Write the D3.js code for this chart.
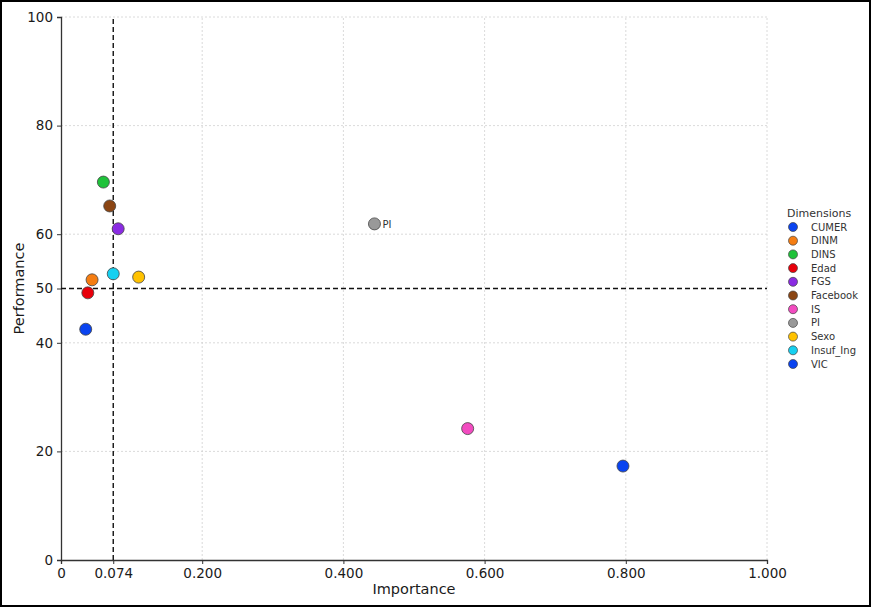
<!DOCTYPE html>
<html>
<head>
<meta charset="utf-8">
<script src="https://d3js.org/d3.v7.min.js"></script>
<style>
  body { margin: 0; background: #fff; }
  svg { font-family: "DejaVu Sans", sans-serif; }
  .grid line { stroke: #d0d0d0; stroke-dasharray: 2,2; stroke-width: 0.8; }
  .axis path, .axis line { stroke: #333; }
</style>
</head>
<body>
<script>
// dimensions and their (importance, performance) readings
var names = ["CUMER", "DINM", "DINS", "Edad", "FGS", "Facebook", "IS", "PI", "Sexo", "Insuf_Ing", "VIC"];
var importance = [0.035, 0.044, 0.060, 0.038, 0.081, 0.069, 0.576, 0.444, 0.110, 0.074, 0.796];
var performance = [42.5, 51.6, 69.6, 49.2, 61.0, 65.2, 24.2, 61.9, 52.1, 52.7, 17.3];
var colors = ["#0a44f0", "#f57d12", "#1fc23a", "#e8000b", "#8a2be2", "#8b4513", "#f24bc0", "#999999", "#ffc200", "#16d0f0", "#0a44f0"];

var xTicks = [0, 0.074, 0.2, 0.4, 0.6, 0.8, 1.0];
var yTicks = [0, 20, 40, 50, 60, 80, 100];
var xGrid = [0.2, 0.4, 0.6, 0.8, 1.0];
var yGrid = [20, 40, 60, 80, 100];
var importanceCut = 0.074;
var performanceCut = 50;

var W = 872, H = 609;
var m = { left: 61, right: 105, top: 17, bottom: 49 };

var svg = d3.select("body").append("svg")
  .attr("width", W)
  .attr("height", H);

svg.append("rect")
  .attr("x", 1).attr("y", 1)
  .attr("width", W - 3).attr("height", H - 4)
  .attr("fill", "#fff")
  .attr("stroke", "#000")
  .attr("stroke-width", 2);

var x = d3.scaleLinear().domain([0, 1]).range([m.left, W - m.right]);
var y = d3.scaleLinear().domain([0, 100]).range([H - m.bottom, m.top]);

var g = svg.append("g");

// grid
g.append("g").attr("class", "grid")
  .selectAll("line").data(xGrid).enter().append("line")
  .attr("x1", d => x(d)).attr("x2", d => x(d))
  .attr("y1", y(0)).attr("y2", y(100));
g.append("g").attr("class", "grid")
  .selectAll("line").data(yGrid).enter().append("line")
  .attr("x1", x(0)).attr("x2", x(1))
  .attr("y1", d => y(d)).attr("y2", d => y(d));

// axes
var xAxis = d3.axisBottom(x).tickValues(xTicks)
  .tickFormat(d => d === 0 ? "0" : d3.format(".3f")(d))
  .tickSizeOuter(0).tickSize(4).tickPadding(4);
g.append("g").attr("class", "axis")
  .attr("transform", "translate(0," + y(0) + ")")
  .call(xAxis)
  .call(a => a.attr("font-size", null).attr("font-family", null))
  .call(a => a.select(".domain").attr("stroke-width", 1.3))
  .call(a => a.selectAll("text").attr("font-size", 13.5).attr("fill", "#1a1a1a"));

var yAxis = d3.axisLeft(y).tickValues(yTicks)
  .tickFormat(d3.format("d"))
  .tickSizeOuter(0).tickSize(4).tickPadding(4);
g.append("g").attr("class", "axis")
  .attr("transform", "translate(" + x(0) + ",0)")
  .call(yAxis)
  .call(a => a.attr("font-size", null).attr("font-family", null))
  .call(a => a.select(".domain").attr("stroke-width", 1.3))
  .call(a => a.selectAll("text").attr("font-size", 13.5).attr("fill", "#1a1a1a"));

// threshold lines
g.append("line")
  .attr("x1", x(importanceCut)).attr("x2", x(importanceCut))
  .attr("y1", y(0)).attr("y2", y(100))
  .attr("stroke", "#111").attr("stroke-width", 1.4)
  .attr("stroke-dasharray", "5,3");
g.append("line")
  .attr("x1", x(0)).attr("x2", x(1))
  .attr("y1", y(performanceCut)).attr("y2", y(performanceCut))
  .attr("stroke", "#111").attr("stroke-width", 1.4)
  .attr("stroke-dasharray", "5,3");

// axis titles
svg.append("text")
  .attr("x", (x(0) + x(1)) / 2).attr("y", 594)
  .attr("text-anchor", "middle")
  .attr("font-size", 14.5).attr("fill", "#1a1a1a")
  .text("Importance");
svg.append("text")
  .attr("transform", "translate(24," + (y(0) + y(100)) / 2 + ") rotate(-90)")
  .attr("text-anchor", "middle")
  .attr("font-size", 14.5).attr("fill", "#1a1a1a")
  .text("Performance");

// points
var idx = d3.range(names.length);
g.selectAll("circle.pt").data(idx).enter().append("circle")
  .attr("class", "pt")
  .attr("cx", i => x(importance[i]))
  .attr("cy", i => y(performance[i]))
  .attr("r", 6)
  .attr("fill", i => colors[i])
  .attr("stroke", "#444")
  .attr("stroke-width", 0.8);

// label for PI
var pi = names.indexOf("PI");
g.append("text")
  .attr("x", x(importance[pi]) + 8)
  .attr("y", y(performance[pi]) + 4)
  .attr("font-size", 10).attr("fill", "#333")
  .text("PI");

// legend
var lg = svg.append("g").attr("transform", "translate(787,213)");
lg.append("text")
  .attr("x", 0).attr("y", 4)
  .attr("font-size", 11).attr("fill", "#333")
  .text("Dimensions");
var rows = lg.selectAll("g.row").data(idx).enter().append("g")
  .attr("class", "row")
  .attr("transform", i => "translate(0," + (14 + i * 13.7) + ")");
rows.append("circle")
  .attr("cx", 6).attr("cy", 0).attr("r", 4.5)
  .attr("fill", i => colors[i])
  .attr("stroke", "#444").attr("stroke-width", 0.7);
rows.append("text")
  .attr("x", 24).attr("y", 3.5)
  .attr("font-size", 10).attr("fill", "#333")
  .text(i => names[i]);
</script>
</body>
</html>
